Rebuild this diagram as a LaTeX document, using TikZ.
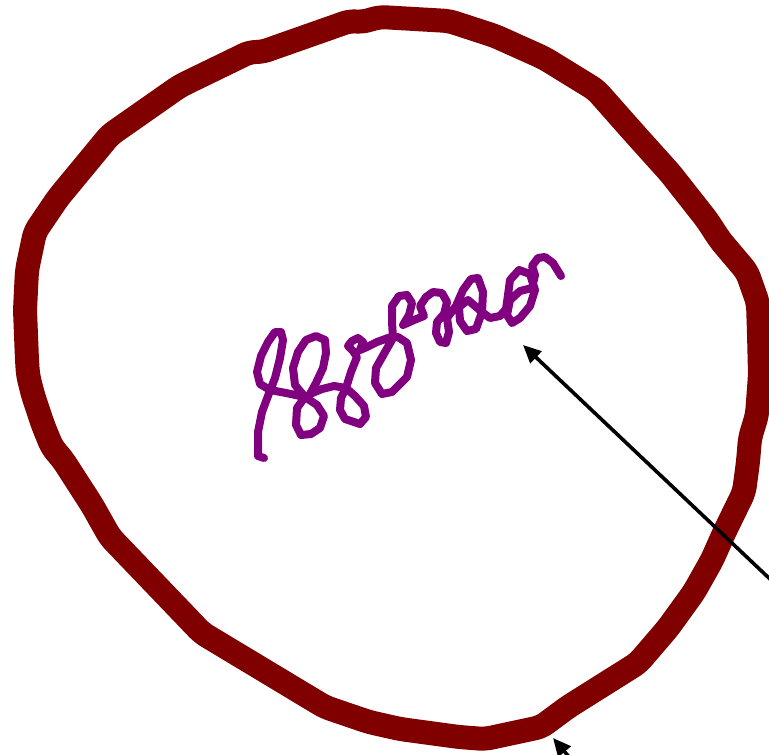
\documentclass[tikz,border=0pt]{standalone}
\usetikzlibrary{arrows.meta}
\definecolor{ringred}{HTML}{800000}
\definecolor{inkpurple}{HTML}{800080}
\tikzset{
  ring/.style={draw=ringred, line width=24pt, line join=round, line cap=round, rounded corners=6pt},
  ink/.style={draw=inkpurple, line width=8pt, line join=round, line cap=round},
  pointer/.style={draw=black, line width=3.6pt, -{Triangle[length=18pt,width=16pt]}}
}
\begin{document}
\begin{tikzpicture}[x=1pt,y=-1pt]
\useasboundingbox (0,0) rectangle (769,755);
\clip (0,0) rectangle (769,755);
% hand-drawn ring
\draw[ring] (380,17) -- (449,21) -- (495,36) -- (544,58) -- (596,90) -- (634,133) -- (670,173) -- (707,220) -- (720,240) -- (747,272) -- (758,303) -- (759,333) -- (760,375) -- (757,415) -- (750,438) -- (748,462) -- (744,492) -- (724,533) -- (712,560) -- (694,592) -- (668,628) -- (638,663) -- (568,707) -- (541,727) -- (485,739) -- (459,737) -- (400,729) -- (369,722) -- (325,707) -- (202,633) -- (110,537) -- (92,505) -- (63,460) -- (52,447) -- (43,425) -- (33,395) -- (28,375) -- (27,360) -- (25,310) -- (27,270) -- (35,232) -- (58,198) -- (110,135) -- (180,86) -- (250,52) -- (262,52) -- (350,21) -- (362,22) -- cycle;
% scribble
\draw[ink] (264,458) -- (258,456) -- (258,432) -- (262,412) -- (268,396) -- (275,378) -- (280,358) -- (283,340) -- (281,332) -- (275,332) -- (268,342) -- (261,356) -- (257,372) -- (260,384) -- (270,390) -- (286,393) -- (305,397) -- (297,408) -- (296,425) -- (301,435) -- (311,434) -- (320,428) -- (324,416) -- (317,405) -- (305,397) -- (295,385) -- (293,368) -- (298,352) -- (306,340) -- (316,336) -- (325,340) -- (326,353) -- (323,368) -- (316,383) -- (310,394) -- (322,389) -- (334,386) -- (346,388) -- (341,398) -- (340,410) -- (345,419) -- (360,424) -- (366,417) -- (364,406) -- (355,396) -- (346,388) -- (351,372) -- (357,357) -- (353,351) -- (348,346) -- (352,341) -- (358,338) -- (363,342) -- (360,350) -- (367,347) -- (377,342) -- (388,338) -- (398,337) -- (407,343) -- (411,360) -- (407,377) -- (392,392) -- (382,394) -- (375,383) -- (376,368) -- (385,352) -- (393,338) -- (392,322) -- (392,306) -- (399,296) -- (407,295) -- (412,303) -- (409,315) -- (403,325) -- (414,320) -- (424,316) -- (420,306) -- (426,297) -- (433,292) -- (442,293) -- (447,302) -- (444,314) -- (437,322) -- (436,333) -- (440,342) -- (446,343) -- (449,332) -- (447,318) -- (456,306) -- (463,290) -- (471,279) -- (478,278) -- (483,292) -- (482,312) -- (476,329) -- (467,331) -- (460,321) -- (459,307) -- (468,300) -- (482,312) -- (490,318) -- (500,316) -- (506,309) -- (508,295) -- (510,280) -- (519,270) -- (530,274) -- (535,290) -- (530,306) -- (520,318) -- (512,323) -- (507,315) -- (510,300) -- (520,291) -- (532,288) -- (535,275) -- (532,266) -- (538,258) -- (545,257) -- (553,263) -- (561,276);
% arrows
\coordinate (a1s) at (790,598);
\coordinate (a1e) at (523,345);
\coordinate (a2s) at (575,764);
\coordinate (a2e) at (553,738);
\draw[pointer] (a1s) -- (a1e);
\draw[pointer] (a2s) -- (a2e);
\end{tikzpicture}
\end{document}
